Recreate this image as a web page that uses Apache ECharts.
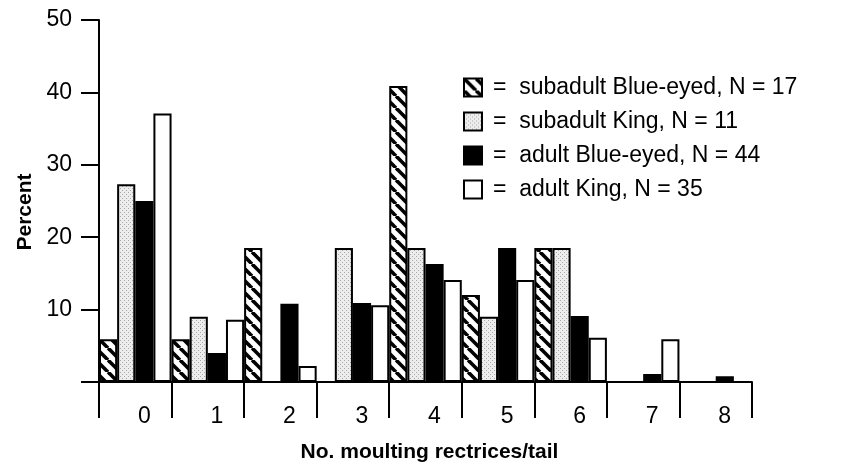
<!DOCTYPE html>
<html>
<head>
<meta charset="utf-8">
<style>
  html, body { margin: 0; padding: 0; background: #fff; }
  #chart { width: 863px; height: 470px; }
</style>
<script src="https://cdn.jsdelivr.net/npm/echarts@6/dist/echarts.min.js"></script>
</head>
<body>
<div id="chart"></div>
<script>
// number of moulting rectrices per tail
var categories = ['0', '1', '2', '3', '4', '5', '6', '7', '8']
var yTicks = [0, 10, 20, 30, 40, 50]

// percent of birds in each group
var subadultBlueEyed = [5.9, 5.9, 18.5, 0, 40.9, 12.0, 18.5, 0, 0]
var subadultKing = [27.3, 9.0, 0, 18.5, 18.5, 9.0, 18.5, 0, 0]
var adultBlueEyed = [25.0, 4.0, 10.8, 10.9, 16.3, 18.5, 9.1, 1.1, 0.8]
var adultKing = [37.1, 8.6, 2.2, 10.6, 14.1, 14.1, 6.1, 5.9, 0]

var seriesNames = [
  'subadult Blue-eyed, N = 17',
  'subadult King, N = 11',
  'adult Blue-eyed, N = 44',
  'adult King, N = 35'
]

// diagonal hatching "\"
function hatchPattern() {
  var s = 12
  var c = document.createElement('canvas')
  c.width = s
  c.height = s
  var ctx = c.getContext('2d')
  ctx.fillStyle = '#fff'
  ctx.fillRect(0, 0, s, s)
  ctx.strokeStyle = '#000'
  ctx.lineWidth = 3.6
  for (var x0 = -s; x0 <= s; x0 += s) {
    ctx.beginPath()
    ctx.moveTo(x0, 0)
    ctx.lineTo(x0 + s, s)
    ctx.stroke()
  }
  return c
}

// light grey stipple
function stipplePattern() {
  var c = document.createElement('canvas')
  c.width = 4
  c.height = 4
  var ctx = c.getContext('2d')
  ctx.fillStyle = '#ededed'
  ctx.fillRect(0, 0, 4, 4)
  ctx.fillStyle = '#a8a8a8'
  ctx.fillRect(0, 0, 1, 1)
  ctx.fillRect(2, 2, 1, 1)
  return c
}

var fills = [
  { image: hatchPattern(), repeat: 'repeat' },
  { image: stipplePattern(), repeat: 'repeat' },
  '#000',
  '#fff'
]
var values = [subadultBlueEyed, subadultKing, adultBlueEyed, adultKing]

var font = 'Liberation Sans, Arial, Helvetica, sans-serif'

var chart = echarts.init(document.getElementById('chart'))
chart.setOption({
  backgroundColor: '#fff',
  animation: false,
  grid: {
    left: 99,
    right: 111,
    top: 20,
    bottom: 88
  },
  legend: {
    orient: 'vertical',
    left: 458,
    top: 71,
    itemWidth: 18,
    itemHeight: 18,
    itemGap: 11,
    icon: 'rect',
    data: seriesNames,
    formatter: function(name) {
      return '=  ' + name
    },
    textStyle: {
      color: '#000',
      fontSize: 23,
      fontFamily: font,
      padding: [0, 0, 0, 6]
    }
  },
  xAxis: {
    type: 'category',
    data: categories,
    boundaryGap: true,
    name: 'No. moulting rectrices/tail',
    nameLocation: 'middle',
    nameGap: 60,
    nameTextStyle: {
      color: '#000',
      fontSize: 21,
      fontWeight: 'bold',
      fontFamily: font,
      padding: [0, 0, 0, 8]
    },
    axisLine: { lineStyle: { color: '#000', width: 2 } },
    axisTick: {
      show: true,
      interval: 0,
      length: 36,
      lineStyle: { color: '#000', width: 2 }
    },
    axisLabel: {
      color: '#000',
      fontSize: 23,
      fontFamily: font,
      margin: 23,
      padding: [0, 0, 0, 18]
    }
  },
  yAxis: {
    type: 'value',
    min: yTicks[0],
    max: yTicks[yTicks.length - 1],
    interval: 10,
    name: 'Percent',
    nameLocation: 'middle',
    nameGap: 63,
    nameTextStyle: {
      color: '#000',
      fontSize: 21,
      fontWeight: 'bold',
      fontFamily: font,
      padding: [0, 22, 0, 0]
    },
    splitLine: { show: false },
    axisLine: { show: true, lineStyle: { color: '#000', width: 2 } },
    axisTick: {
      show: true,
      length: 18,
      lineStyle: { color: '#000', width: 2 }
    },
    axisLabel: {
      color: '#000',
      fontSize: 23,
      fontFamily: font,
      margin: 27,
      formatter: function(v) {
        return v === 0 ? '' : String(v)
      }
    }
  },
  series: seriesNames.map(function(name, i) {
    return {
      name: name,
      type: 'bar',
      data: values[i],
      barGap: '0%',
      barCategoryGap: '0%',
      itemStyle: {
        color: fills[i],
        borderColor: '#000',
        borderWidth: 2
      }
    }
  })
})
</script>
</body>
</html>
